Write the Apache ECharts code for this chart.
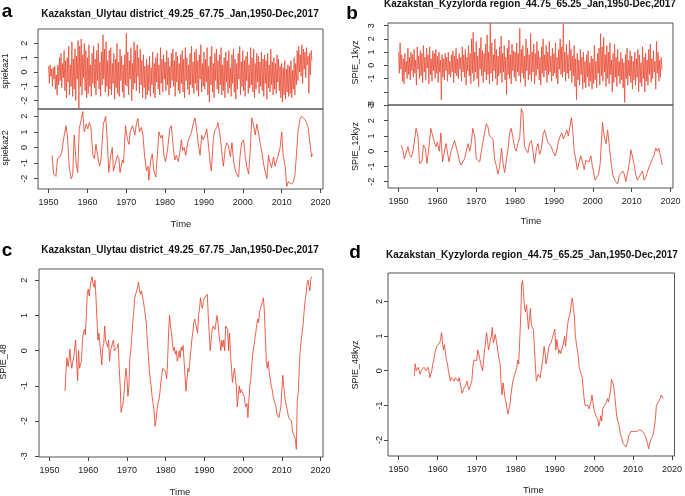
<!DOCTYPE html>
<html><head><meta charset="utf-8">
<script src="https://cdn.jsdelivr.net/npm/echarts@6/dist/echarts.min.js"></script>
<style>html,body{margin:0;padding:0;background:#fff}#c{width:685px;height:496px}</style>
</head><body><div id="c"></div><script>
const xTickYears=[1950,1960,1970,1980,1990,2000,2010,2020];
const titleUlytau='Kazakstan_Ulytau district_49.25_67.75_Jan,1950-Dec,2017';
const titleKyzyl='Kazakstan_Kyzylorda region_44.75_65.25_Jan,1950-Dec,2017';

// SPEI-1 (noisy) series, regular steps from 1950.0
const spei1Start=1950.0, spei1Step=0.2;
const spiekaz1=[
0.4,-0.8,0.5,-0.3,0.2,-1.0,0.3,-0.5,0.4,-1.2,
-0.2,-1.6,0.5,-0.9,1.0,-0.6,1.3,-1.1,0.6,-0.4,
1.5,-1.3,0.8,-1.8,1.0,-0.7,1.8,-1.6,0.5,-1.0,
2.1,-1.7,0.9,-1.2,1.6,-2.0,1.1,-0.5,2.2,-2.5,
1.8,-1.0,2.3,-1.6,1.2,-0.4,2.0,-1.3,1.5,-1.8,
1.0,-1.5,1.9,-1.0,0.5,-1.7,1.3,-0.8,1.8,-1.1,
0.9,-1.6,1.5,-0.6,2.0,-1.2,0.7,-1.7,1.4,-0.9,
2.6,-0.5,1.6,-1.4,2.1,-1.0,0.8,-1.7,1.5,-1.2,
1.7,-1.6,0.6,-0.8,1.3,-1.9,0.9,-1.1,2.0,-1.5,
0.7,-1.7,1.6,-0.6,1.1,-1.4,0.5,-1.8,1.2,-0.9,
2.7,-1.0,1.4,-1.6,0.8,-0.5,1.7,-2.0,0.6,-1.2,
2.1,-0.8,1.5,-1.3,1.9,-0.3,1.0,-1.5,1.6,-0.9,
0.8,-1.8,1.2,-1.1,0.4,-1.9,0.9,-1.6,0.5,-1.3,
1.1,-1.7,0.3,-0.9,1.4,-1.5,0.6,-1.8,1.0,-0.7,
1.3,-1.2,0.5,-1.6,1.7,-0.8,0.9,-1.4,1.2,-0.5,
0.7,-1.3,1.5,-0.9,1.0,-1.6,0.4,-1.1,1.3,-0.6,
1.6,-1.0,0.8,-1.7,1.4,-0.7,1.1,-1.3,0.6,-1.5,
1.2,-0.8,1.5,-1.4,0.9,-1.8,1.7,-0.6,1.0,-1.2,
0.5,-1.6,1.3,-0.9,1.8,-1.1,0.7,-1.5,1.4,-0.8,
1.6,-1.3,0.8,-1.7,1.2,-0.5,1.9,-1.4,0.6,-1.0,
1.4,-1.2,0.9,-0.7,1.7,-1.6,0.4,-2.1,1.1,-0.9,
1.8,-1.4,0.6,-1.8,1.3,-0.6,1.6,-1.2,0.8,-1.5,
1.2,-0.9,1.7,-1.6,0.5,-1.3,1.0,-1.8,1.4,-0.7,
0.8,-1.5,1.5,-1.1,0.3,-1.7,1.2,-0.8,1.6,-1.4,
0.9,-1.9,0.6,-1.2,1.3,-0.5,1.8,-1.6,0.7,-1.0,
1.5,-1.3,0.8,-1.7,1.1,-0.6,1.4,-1.5,0.5,-1.1,
1.7,-0.9,1.0,-1.4,1.6,-1.8,0.6,-1.2,1.3,-0.7,
1.1,-1.5,0.7,-1.0,1.4,-1.3,0.9,-1.7,1.2,-0.8,
0.8,-1.9,1.3,-1.1,0.5,-1.4,1.6,-0.9,0.7,-1.6,
1.0,-1.2,0.6,-1.5,1.2,-0.7,0.9,-1.3,0.4,-1.8,
0.6,-2.1,0.3,-1.6,0.8,-1.9,0.2,-1.4,0.5,-1.7,
0.4,-1.5,0.8,-1.8,0.1,-1.2,1.0,-1.6,0.6,-0.9,
1.5,-0.6,1.8,0.0,1.2,-0.3,1.9,-0.8,1.6,0.2,
1.4,-0.4,1.7,0.5,1.1,-1.5,1.3,-0.2,1.5,0.8];
const spie1kyz=[
1.0,-0.6,1.7,-0.3,0.8,-1.2,0.5,-1.4,0.9,-0.5,
0.3,-1.0,1.3,-0.7,0.6,-1.1,1.0,-0.4,0.8,-0.9,
1.2,-0.6,0.4,-1.5,1.4,-0.3,0.7,-1.0,1.1,-0.8,
0.9,-1.3,1.5,-0.5,0.6,-1.1,1.3,-0.2,0.8,-1.4,
1.4,-0.7,0.5,-1.2,1.1,-0.4,0.9,-1.0,1.2,-0.6,
0.7,-1.3,1.0,-0.5,0.4,-2.6,0.8,-0.9,0.5,-1.1,
0.9,-0.4,0.6,-1.2,1.0,-0.7,0.3,-0.9,0.8,-0.5,
1.1,-1.3,0.7,-0.6,1.3,-0.8,0.5,-1.0,0.9,-0.3,
0.6,-1.2,1.4,-0.5,0.8,-0.9,1.2,-1.5,0.6,-0.4,
1.5,-0.8,0.9,-1.4,2.0,-0.6,2.5,-1.2,1.0,-0.5,
1.8,-1.0,0.7,-1.6,1.3,-0.3,2.1,-0.8,1.1,-1.3,
0.9,-0.5,1.6,-1.1,2.3,-0.7,1.0,-1.4,3.2,-0.6,
1.7,-1.2,0.8,-0.4,2.0,-1.0,1.2,-1.5,0.7,-0.8,
1.4,-0.6,2.2,-1.3,0.9,-0.5,1.5,-1.1,0.6,-2.2,
1.3,-0.7,1.9,-1.0,0.8,-1.4,1.6,-0.4,1.1,-0.9,
1.0,-1.2,1.7,-0.5,0.9,-0.8,2.8,-1.3,1.2,-0.6,
1.5,-1.0,0.7,-1.6,2.0,-0.4,1.3,-1.1,0.8,-0.7,
2.4,-1.2,1.0,-0.5,1.6,-1.4,0.9,-0.8,1.8,-0.3,
1.1,-1.1,0.6,-1.5,1.4,-0.6,2.0,-0.9,0.8,-0.4,
1.5,-1.3,1.0,-0.7,1.8,-0.5,0.7,-1.2,1.3,-0.8,
0.9,-0.6,1.7,-1.0,0.6,-1.4,1.2,-0.3,2.0,-0.7,
1.4,-0.9,3.1,-0.5,1.0,-1.2,1.6,-0.6,0.8,-1.0,
1.9,-0.4,1.2,-1.3,0.7,-0.8,1.5,-1.6,0.5,-2.6,
0.9,-1.1,0.4,-1.5,1.2,-0.7,0.6,-1.8,1.0,-1.3,
0.3,-1.7,0.8,-0.9,1.1,-1.6,0.2,-1.2,0.7,-1.8,
0.5,-1.4,1.5,-1.1,0.3,-1.7,0.9,-0.6,1.3,-1.5,
2.4,-0.8,1.4,-1.2,2.1,-0.5,0.8,-1.6,1.5,-1.0,
1.0,-1.4,1.7,-0.7,0.4,-2.0,0.9,-1.3,1.6,-0.9,
0.6,-1.6,1.2,-0.8,0.3,-1.4,1.0,-1.1,0.5,-1.7,
0.2,-2.8,0.8,-1.0,1.3,-1.5,0.4,-0.8,1.1,-1.3,
0.7,-1.8,0.3,-1.1,1.0,-1.5,0.5,-0.9,1.2,-2.0,
0.8,-1.3,0.2,-1.6,1.4,-1.0,0.6,-2.0,0.9,-1.2,
0.4,-1.5,1.2,-0.7,1.6,-1.3,0.5,-1.0,1.1,-0.5,
0.3,-1.8,1.8,-0.6,1.0,-1.2,0.4,-0.9,0.6,-0.3];

// SPEI-12 series as [year, value] readings
const spiekaz2=[[1950.9,-0.5],[1951.3,-1.7],[1951.9,-1.85],[1952.3,-0.7],[1952.9,-0.6],[1953.4,-0.3],[1953.9,0.6],[1954.5,1.4],[1954.9,0.6],[1955.3,-1.2],[1955.8,-2.0],[1956.2,-1.8],[1956.6,0.8],[1957.1,-1.0],[1957.5,-1.6],[1957.9,1.2],[1958.4,1.8],[1958.8,2.3],[1959.2,1.0],[1959.7,1.5],[1960.1,1.2],[1960.5,1.6],[1960.9,1.3],[1961.4,-0.5],[1961.8,-0.7],[1962.2,0.2],[1962.7,-0.6],[1963.1,-1.2],[1963.5,-0.8],[1964.1,1.5],[1964.7,2.0],[1965.1,0.5],[1965.5,-1.6],[1966.0,-0.5],[1966.4,0.0],[1966.7,-1.5],[1967.2,-1.0],[1967.7,-0.5],[1968.1,-0.7],[1968.4,-1.6],[1969.0,-0.8],[1969.3,-1.0],[1969.8,1.4],[1970.3,0.5],[1970.7,0.2],[1971.0,1.0],[1971.6,1.4],[1972.2,0.8],[1972.6,1.5],[1973.0,1.85],[1973.4,1.0],[1973.9,1.3],[1974.3,0.8],[1974.7,-0.5],[1975.2,-1.5],[1975.6,-1.2],[1975.8,-2.1],[1976.3,-0.8],[1976.7,-0.4],[1977.1,-1.5],[1977.6,-1.9],[1978.0,-0.5],[1978.4,1.0],[1978.9,0.6],[1979.3,0.8],[1979.7,-0.5],[1980.1,-0.9],[1980.6,-0.2],[1981.2,1.2],[1981.6,1.4],[1982.1,0.0],[1982.5,-0.8],[1982.9,-0.5],[1983.4,-0.9],[1983.8,-0.3],[1984.2,0.5],[1984.5,-0.2],[1984.9,0.0],[1985.3,-0.5],[1985.8,0.3],[1986.2,0.6],[1986.8,1.0],[1987.2,1.5],[1987.7,1.9],[1988.1,1.2],[1988.5,0.3],[1989.0,-0.5],[1989.4,0.8],[1989.8,0.5],[1990.3,0.8],[1990.7,1.2],[1991.1,0.3],[1991.6,-1.0],[1991.9,-1.5],[1992.4,0.5],[1992.8,1.1],[1993.3,1.3],[1993.6,1.6],[1994.0,1.0],[1994.4,0.2],[1994.7,-0.6],[1995.0,-1.2],[1995.5,0.0],[1995.9,0.3],[1996.3,0.1],[1996.8,-0.6],[1997.2,0.3],[1997.6,-0.8],[1998.0,-1.4],[1998.4,-1.7],[1998.9,-1.9],[1999.3,-0.5],[1999.7,0.3],[2000.2,0.5],[2000.6,-0.5],[2001.0,-1.2],[2001.5,-1.7],[2001.9,-0.2],[2002.3,1.9],[2002.7,1.5],[2003.2,0.8],[2003.6,1.5],[2004.0,1.0],[2004.5,0.2],[2004.9,-0.3],[2005.3,-1.0],[2005.7,-1.5],[2006.2,-2.0],[2006.6,-0.5],[2007.0,-1.0],[2007.4,-1.3],[2007.9,-0.6],[2008.3,-1.2],[2008.7,-1.1],[2009.1,-0.5],[2009.6,0.0],[2010.0,1.0],[2010.4,-0.5],[2010.9,-1.2],[2011.3,-2.5],[2011.7,-2.2],[2012.1,-2.3],[2012.6,-2.35],[2013.0,-2.2],[2013.4,-1.8],[2013.8,-0.5],[2014.2,1.0],[2014.7,1.8],[2015.1,2.0],[2015.5,1.9],[2016.0,1.8],[2016.4,1.6],[2016.8,1.3],[2017.2,1.2],[2017.7,-0.6],[2017.9,-0.4]];
const spie12kyz=[[1950.7,0.4],[1951.1,0.1],[1951.5,-0.5],[1952.0,-0.6],[1952.4,0.3],[1952.8,-0.2],[1953.3,-0.4],[1953.7,0.0],[1954.0,0.5],[1954.5,1.5],[1955.0,1.0],[1955.4,-0.8],[1956.0,-0.7],[1956.4,0.4],[1956.9,0.2],[1957.3,-0.8],[1957.7,0.0],[1958.3,1.5],[1958.8,1.6],[1959.2,0.6],[1959.6,0.3],[1960.0,0.6],[1960.5,0.0],[1960.9,1.2],[1961.3,-0.7],[1961.8,-0.8],[1962.2,0.5],[1962.6,0.5],[1963.0,-0.7],[1963.5,0.0],[1963.9,0.0],[1964.4,0.7],[1964.8,0.8],[1965.3,-0.2],[1965.7,-0.7],[1966.1,-0.9],[1966.6,-1.0],[1967.0,-0.5],[1967.4,0.0],[1967.9,0.5],[1968.3,0.0],[1968.7,0.5],[1969.1,1.5],[1969.6,1.0],[1970.0,-0.5],[1970.4,-0.6],[1970.9,-0.7],[1971.3,0.0],[1971.7,0.6],[1972.2,1.3],[1972.6,1.8],[1973.0,1.6],[1973.4,1.0],[1973.9,1.0],[1974.3,0.8],[1974.7,-0.5],[1975.2,-1.0],[1975.6,-1.5],[1976.0,-1.0],[1976.5,0.2],[1976.9,-0.8],[1977.3,-1.4],[1977.7,-1.4],[1978.2,0.2],[1978.6,1.2],[1979.0,1.5],[1979.5,0.8],[1979.9,0.2],[1980.3,0.0],[1980.7,0.5],[1981.2,0.9],[1981.6,2.8],[1982.0,2.5],[1982.4,0.3],[1982.9,0.2],[1983.3,-0.1],[1983.7,0.5],[1984.2,0.7],[1984.6,0.0],[1985.0,-0.8],[1985.5,0.2],[1985.9,0.5],[1986.3,-0.2],[1986.7,0.1],[1987.2,1.1],[1987.6,1.4],[1988.0,1.3],[1988.4,0.6],[1988.9,0.6],[1989.3,0.3],[1989.7,0.0],[1990.3,-0.3],[1990.7,0.0],[1991.1,0.6],[1991.6,1.0],[1992.0,1.2],[1992.4,0.8],[1992.9,1.1],[1993.3,1.4],[1993.7,1.0],[1994.1,1.6],[1994.5,2.2],[1994.8,1.5],[1995.2,0.0],[1995.6,-0.5],[1996.0,-1.2],[1996.5,-0.7],[1996.9,-0.3],[1997.3,-0.4],[1997.8,-1.2],[1998.2,-0.6],[1998.6,-0.5],[1999.0,-0.7],[1999.5,-0.3],[1999.9,-1.0],[2000.2,-1.4],[2000.6,-1.9],[2001.1,-1.8],[2001.5,-1.5],[2001.9,-0.8],[2002.5,1.9],[2002.9,1.0],[2003.4,0.5],[2003.8,1.4],[2004.2,0.5],[2004.6,-0.5],[2005.1,-1.5],[2005.5,-1.8],[2005.9,-2.0],[2006.4,-2.15],[2006.8,-1.6],[2007.2,-1.5],[2007.7,-1.3],[2008.1,-1.5],[2008.5,-2.0],[2008.9,-1.9],[2009.4,-0.8],[2009.8,0.1],[2010.2,0.2],[2010.6,-0.8],[2011.0,-1.5],[2011.5,-1.9],[2011.9,-1.8],[2012.3,-1.5],[2012.8,-1.3],[2013.2,-1.9],[2013.6,-1.7],[2014.0,-1.4],[2014.5,-1.0],[2014.9,-0.8],[2015.3,-0.5],[2015.7,-0.3],[2016.2,0.2],[2016.6,0.0],[2017.0,0.2],[2017.4,-0.3],[2017.9,-0.9]];

// SPEI-48 series, quarterly from 1954.0
const spei48Start=1954.0, spei48Step=0.25;
const spie48=[
-1.15,-0.6,-0.2,-0.45, -0.3,0.05,-0.3,-0.5, -0.3,-0.2,0.1,0.3, -0.3,-0.85,0.0,-0.5,
-0.4,-0.3,0.3,0.5, 0.6,0.45,1.0,1.6, 1.75,1.55,1.8,2.0, 2.1,1.9,1.8,2.0,
1.5,0.9,0.3,0.5, 0.2,-0.1,-0.4,0.1, 0.2,0.7,0.3,0.2, 0.1,0.3,-0.3,0.0,
0.1,0.2,0.3,0.0, -0.05,0.0,0.1,0.2, -0.5,-1.0,-1.75,-1.6, -1.5,-1.2,-0.8,-0.5,
-0.8,-1.3,-1.0,-0.2, 0.0,0.4,0.8,1.1, 1.5,1.45,1.7,1.8, 1.95,1.7,1.6,1.7,
1.7,1.4,1.2,1.0, 0.8,0.3,-0.1,-0.5, -0.8,-1.0,-1.3,-1.5, -1.7,-2.15,-2.0,-1.7,
-1.5,-1.4,-1.2,-0.9, -0.7,-0.5,-0.55,-0.5, -0.6,-0.8,-0.3,0.5, 1.0,0.7,0.5,0.2,
0.0,0.1,-0.1,0.0, -0.3,-0.2,0.0,-0.2, 0.1,0.0,0.15,0.1, 0.2,-1.15,-0.8,-0.5,
-0.6,-0.3,0.0,0.3, 0.5,0.8,0.9,0.95, 0.9,0.5,1.0,1.2, 1.5,1.3,1.2,1.4,
1.5,1.45,1.55,1.6, 1.0,0.5,0.0,0.3, 0.6,0.7,0.65,0.6, 0.8,1.0,0.8,0.5,
0.5,0.0,0.3,0.1, 0.3,0.0,0.7,0.75, 0.6,0.0,0.5,-0.1, -0.5,-0.9,-0.7,-0.5,
-0.5,-1.0,-1.6,-1.3, -1.0,-1.2,-1.1,-1.15, -1.1,-1.3,-1.5,-1.6, -1.5,-1.9,-1.4,-1.0,
-0.8,-0.4,-0.1,0.1, 0.3,0.5,0.7,0.9, 0.8,1.1,1.2,1.3, 1.4,1.5,1.1,0.4,
-0.3,-0.5,-0.3,-0.6, -0.8,-1.0,-1.1,-1.3, -1.3,-1.5,-1.6,-1.8, -1.8,-1.9,-1.9,-1.6,
-1.6,-0.7,-1.0,-1.3, -1.5,-1.6,-1.6,-1.9, -1.9,-1.95,-2.0,-2.3, -2.3,-2.35,-2.5,-2.8,
-1.4,-1.2,-0.5,0.0, 0.3,0.5,0.75,1.1, 1.4,1.6,1.9,2.0, 2.0,1.7,2.05,2.1];
const spie48kyz=[
-0.16,0.2,0.0,-0.05, 0.1,0.1,-0.1,0.0, 0.0,0.05,0.1,0.05, 0.0,0.0,0.1,0.0,
-0.2,-0.1,0.0,0.2, 0.3,0.5,0.6,0.7, 0.75,0.65,0.8,0.9, 1.1,0.8,0.6,0.75,
0.75,0.3,0.2,0.0, 0.0,-0.3,-0.2,-0.25, -0.25,-0.3,-0.2,-0.25, -0.15,-0.3,-0.2,-0.25,
-0.2,-0.65,-0.6,-0.5, -0.55,-0.4,-0.3,-0.45, -0.55,-0.6,-0.6,-0.3, 0.1,0.3,0.25,0.3,
0.3,0.6,0.5,0.35, 0.35,0.1,0.0,0.3, 0.6,0.8,1.1,0.9, 0.6,0.7,0.9,1.0,
1.25,0.8,0.9,1.05, 1.05,0.7,0.5,0.3, 0.2,-0.4,-0.7,-0.35, -0.35,-0.8,-0.9,-1.1,
-1.25,-1.1,-1.0,-0.7, -0.5,-0.3,-0.2,-0.1, 0.0,0.1,0.3,0.2, 0.2,1.5,2.5,2.6,
2.2,1.8,1.7,1.9, 1.9,1.2,1.5,1.8, 1.3,1.25,1.2,1.2, 1.2,-0.3,-0.2,-0.1,
-0.1,-0.2,-0.2,0.2, 0.4,0.7,0.5,0.2, 0.2,0.5,0.7,0.75, 0.8,0.9,1.0,1.1,
1.2,0.6,0.9,0.7, 0.5,0.6,0.5,0.5, 0.5,0.8,1.0,0.7, 0.7,1.3,1.5,1.6,
1.7,2.0,2.1,1.8, 1.6,1.0,0.8,0.6, 0.4,0.1,0.0,-0.1, -0.2,-0.5,-0.8,-1.0,
-1.0,-1.0,-1.0,-1.1, -1.15,-0.9,-0.7,-0.9, -1.1,-1.2,-1.3,-1.3, -1.4,-1.6,-1.5,-1.3,
-1.45,-1.1,-1.1,-1.0, -1.0,-0.9,-0.8,-0.9, -0.9,-0.6,-0.25,-0.3, -0.4,-0.6,-0.9,-1.2,
-1.4,-1.5,-1.6,-1.8, -1.9,-2.0,-2.1,-2.15, -2.15,-2.2,-2.2,-2.0, -1.85,-1.8,-1.75,-1.7,
-1.7,-1.75,-1.8,-1.75, -1.75,-1.75,-1.7,-1.7, -1.7,-1.7,-1.75,-1.8, -1.8,-1.9,-2.0,-2.1,
-2.25,-2.2,-2.0,-2.0, -1.9,-1.8,-1.6,-1.4, -1.0,-1.0,-0.9,-0.85, -0.8,-0.7,-0.75,-0.8];

const regular=(arr,start,step)=>arr.map((v,i)=>[start+i*step,v]);

const FONT='"Liberation Sans", Arial, Helvetica, sans-serif';
const LINE='#e8472f';
const AXC='#444';
const XMIN=1947.28, XMAX=2020.64;

const grids=[
 {left:38,top:29,width:285,height:80},
 {left:38,top:109,width:285,height:80},
 {left:388,top:23,width:285,height:82},
 {left:388,top:105,width:285,height:83},
 {left:39,top:269,width:284,height:188},
 {left:388,top:273,width:290,height:183}
];
const yConf=[
 {min:-2.58,max:3.0,ticks:[-2,-1,0,1,2],labels:[-2,-1,0,1,2],margin:9},
 {min:-2.66,max:2.47,ticks:[-2,-1,0,1,2],labels:[-2,-1,0,1,2],margin:9},
 {min:-3.0,max:3.2,ticks:[-3,-2,-1,0,1,2,3],labels:[-3,-1,0,1,2,3],margin:12},
 {min:-2.41,max:3.03,ticks:[-2,-1,0,1,2,3],labels:[-2,-1,0,1,2,3],margin:12},
 {min:-3.02,max:2.32,ticks:[-3,-2,-1,0,1,2],labels:[-3,-2,-1,0,1,2],margin:10},
 {min:-2.46,max:2.82,ticks:[-2,-1,0,1,2],labels:[-2,-1,0,1,2],margin:4}
];
const showX=[false,true,false,true,true,true];

const xAxis=grids.map((g,i)=>({
 type:'value',gridIndex:i,min:XMIN,max:XMAX,position:'bottom',
 axisLine:{show:false,onZero:false},splitLine:{show:false},
 axisTick:{show:showX[i],length:4,lineStyle:{color:AXC,width:1},customValues:xTickYears},
 axisLabel:{show:showX[i],customValues:xTickYears,margin:9,color:'#222',fontSize:9,fontFamily:FONT,
  formatter:v=>String(Math.round(v))}
}));
const yAxis=yConf.map((c,i)=>({
 type:'value',gridIndex:i,min:c.min,max:c.max,position:'left',
 axisLine:{show:false,onZero:false},splitLine:{show:false},
 axisTick:{show:true,length:4,lineStyle:{color:AXC,width:1},customValues:c.ticks},
 axisLabel:{customValues:c.labels,rotate:90,margin:c.margin,color:'#222',fontSize:9,fontFamily:FONT,
  formatter:v=>String(Math.round(v))}
}));

const seriesData=[
 regular(spiekaz1,spei1Start,spei1Step),
 spiekaz2,
 regular(spie1kyz,spei1Start,spei1Step),
 spie12kyz,
 regular(spie48,spei48Start,spei48Step),
 regular(spie48kyz,spei48Start,spei48Step)
];
const series=seriesData.map((d,i)=>({
 type:'line',xAxisIndex:i,yAxisIndex:i,data:d,showSymbol:false,symbol:'none',
 lineStyle:{color:LINE,width:(i===0||i===2)?0.9:1,opacity:0.85},silent:true
}));

function txt(x,y,s,o){
 o=o||{};
 return {type:'text',x:x,y:y,rotation:o.rot||0,silent:true,
  style:{text:s,fill:o.color||'#222',font:(o.bold?'bold ':'')+(o.size||9)+'px '+FONT,
   align:'center',verticalAlign:'middle'}};
}
const graphic=[
 txt(180,14,titleUlytau,{bold:true,size:10,color:'#111'}),
 txt(530,4,titleKyzyl,{bold:true,size:10,color:'#111'}),
 txt(180,250,titleUlytau,{bold:true,size:10,color:'#111'}),
 txt(532,255,titleKyzyl,{bold:true,size:10,color:'#111'}),
 txt(7,11.5,'a',{bold:true,size:19,color:'#000'}),
 txt(352,13.5,'b',{bold:true,size:19,color:'#000'}),
 txt(7,250.5,'c',{bold:true,size:19,color:'#000'}),
 txt(355,253,'d',{bold:true,size:19,color:'#000'}),
 txt(5.5,71,'spiekaz1',{rot:Math.PI/2}),
 txt(5.5,148,'spiekaz2',{rot:Math.PI/2}),
 txt(355.5,62.5,'SPIE_1kyz',{rot:Math.PI/2}),
 txt(355.5,146.5,'SPIE_12kyz',{rot:Math.PI/2}),
 txt(4,362,'SPIE_48',{rot:Math.PI/2}),
 txt(355.5,365,'SPIE_48kyz',{rot:Math.PI/2}),
 txt(181,224,'Time',{size:9.5}),
 txt(531,221,'Time',{size:9.5}),
 txt(180,492,'Time',{size:9.5}),
 txt(533.5,490.5,'Time',{size:9.5})
];

const chart=echarts.init(document.getElementById('c'),null,{renderer:'canvas'});
chart.setOption({
 animation:false,backgroundColor:'#fff',
 grid:grids.map(g=>Object.assign({show:true,borderColor:'#555',borderWidth:1,backgroundColor:'transparent'},g)),
 xAxis:xAxis,yAxis:yAxis,series:series,graphic:graphic
});
</script></body></html>
